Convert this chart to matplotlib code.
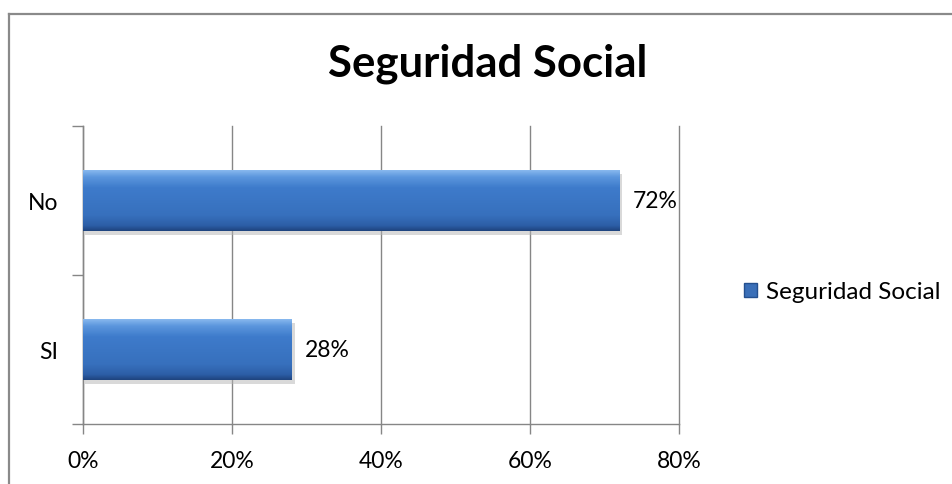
import numpy as np
import matplotlib
matplotlib.use("Agg")
import matplotlib.pyplot as plt
from matplotlib.colors import LinearSegmentedColormap
from matplotlib.lines import Line2D
from matplotlib.patches import Patch

categories = ["SI", "No"]
values = [0.28, 0.72]
series_name = "Seguridad Social"
x_ticks = [0.0, 0.2, 0.4, 0.6, 0.8]
x_tick_labels = ["0%", "20%", "40%", "60%", "80%"]

plt.rcParams["font.family"] = ["Lato", "DejaVu Sans"]

GRID = "#868686"
# top (light) -> bottom (dark)
bar_cmap = LinearSegmentedColormap.from_list(
    "bevel", [(0.0, "#8cbcf0"), (0.12, "#5b96dd"), (0.3, "#3e7bcb"),
              (0.75, "#3770bd"), (0.92, "#2c5ea6"), (1.0, "#1f4580")])

fig = plt.figure(figsize=(9.53, 4.85), dpi=100)
ax = fig.add_axes([0.0871, 0.1237, 0.6254, 0.6144])

y = np.arange(len(categories))
bars = ax.barh(y, values, height=0.41, color="#3a74c2", zorder=3)

# vertical gradient on each bar to mimic the bevel look
grad = np.linspace(0, 1, 64).reshape(-1, 1)
for b in bars:
    x0, y0, w, h = b.get_x(), b.get_y(), b.get_width(), b.get_height()
    # soft shadow under the bar
    ax.fill_between([x0 + 0.003, x0 + w + 0.004], y0 - 0.025, y0 + h - 0.03,
                    color="#b5b5b5", alpha=0.5, lw=0, zorder=2)
    im = ax.imshow(grad[::-1], cmap=bar_cmap, aspect="auto", zorder=4,
                   extent=[x0, x0 + w, y0, y0 + h], origin="lower")
    im.set_clip_path(b)

for b, v in zip(bars, values):
    ax.text(b.get_width() + 0.018, b.get_y() + b.get_height() / 2,
            f"{v:.0%}", va="center", ha="left", fontsize=16.5, color="black")

ax.set_xlim(0, 0.8)
ax.set_ylim(-0.5, len(categories) - 0.5)
ax.set_xticks(x_ticks)
ax.set_xticklabels(x_tick_labels, fontsize=16.5)
ax.set_yticks(np.arange(-0.5, len(categories), 1.0))
ax.set_yticklabels([])
ax.set_yticks(y, minor=True)
ax.set_yticklabels(categories, minor=True, fontsize=16.5)
ax.tick_params(axis="y", which="major", length=8, color=GRID, width=1)
ax.tick_params(axis="y", which="minor", length=0, pad=18)
ax.tick_params(axis="x", length=7, color=GRID, width=1, pad=12)

ax.grid(axis="x", color=GRID, lw=1, zorder=0)
for gl in ax.get_xgridlines():
    gl.set_clip_on(False)
for s in ["top", "right"]:
    ax.spines[s].set_visible(False)
for s in ["left", "bottom"]:
    ax.spines[s].set_color(GRID)
    ax.spines[s].set_linewidth(1)

handles = [Patch(facecolor="#3a6fb8", edgecolor="#24508f", label=series_name)]
fig.legend(handles=handles, loc="center left", bbox_to_anchor=(0.768, 0.396),
           frameon=False, fontsize=17.5, handlelength=0.55, handleheight=0.55,
           handletextpad=0.35, borderpad=0)

fig.text(0.512, 0.842, series_name, ha="center", va="baseline",
         fontsize=31.5, fontweight="bold")

# outer chart border (top and left only visible in the crop)
fig.add_artist(Line2D([0.0094, 1.0], [0.969, 0.969], transform=fig.transFigure,
                      color="#8a8a8a", lw=1.6))
fig.add_artist(Line2D([0.0094, 0.0094], [0.0, 0.969], transform=fig.transFigure,
                      color="#8a8a8a", lw=1.6))

fig.savefig("out.png", dpi=100)
